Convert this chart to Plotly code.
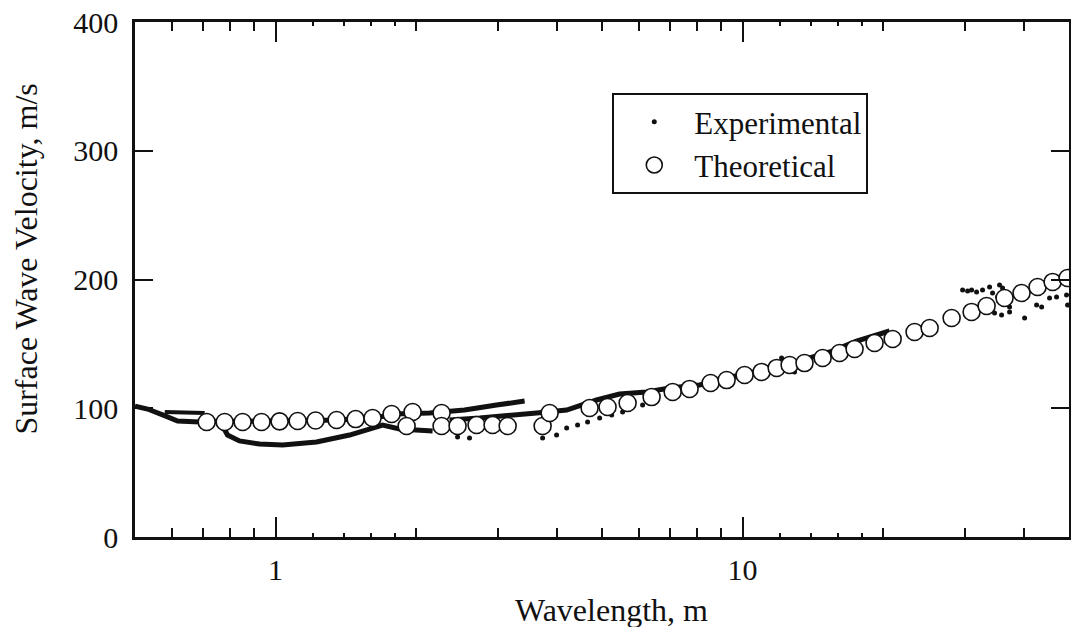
import plotly.graph_objects as go

# ---------------- data ----------------
# Theoretical dispersion points (wavelength m, velocity m/s)
theo_wavelength = [0.712, 0.778, 0.850, 0.933, 1.020, 1.115, 1.218, 1.351, 1.484, 1.613,
                   1.772, 1.965, 1.908, 2.267, 2.267, 2.453, 2.694, 2.915, 3.140, 3.731,
                   3.862, 4.703, 5.139, 5.673, 6.385, 7.084, 7.701, 8.541, 9.243, 10.10,
                   10.98, 11.83, 12.61, 13.57, 14.84, 16.13, 17.37, 19.17, 20.96, 23.35,
                   25.15, 28.03, 30.93, 33.31, 36.39, 39.57, 42.82, 46.12, 49.65]
theo_velocity = [89.3, 89.3, 89.3, 89.3, 89.8, 90.1, 90.5, 90.9, 91.6, 92.4,
                 95.5, 97.1, 86.2, 96.3, 86.2, 86.2, 87.0, 87.0, 86.2, 86.2,
                 96.3, 100.2, 101.0, 104.1, 108.7, 112.6, 115.0, 119.6, 121.9, 125.8,
                 128.2, 131.3, 133.6, 135.1, 139.0, 142.9, 146.0, 150.7, 153.8, 159.2,
                 162.3, 170.1, 174.8, 179.4, 185.6, 189.5, 194.2, 198.1, 201.2]

# Experimental data - dense runs (appear as continuous thick traces)
exp_run1_wavelength = [0.50, 0.532, 0.573, 0.617, 0.688, 1.02, 1.371, 1.629, 1.798, 2.137, 2.539, 2.973, 3.414]
exp_run1_velocity = [101.7, 99.4, 94.8, 90.1, 89.3, 90.1, 90.9, 92.4, 95.5, 96.3, 98.6, 102.5, 105.6]

exp_run2_wavelength = [0.579, 0.705]
exp_run2_velocity = [97.1, 96.3]

exp_run3_wavelength = [0.766, 0.789, 0.837, 0.924, 1.035, 1.224, 1.440, 1.695, 1.843, 2.169]
exp_run3_velocity = [87.8, 79.2, 74.6, 72.2, 71.5, 73.8, 79.2, 87.0, 83.9, 82.3]

exp_run4_wavelength = [2.358, 2.734, 3.622, 4.200, 4.868, 5.452, 6.229, 6.978, 8.088, 9.853,
                       12.61, 15.36, 17.54, 20.64]
exp_run4_velocity = [90.9, 92.4, 96.3, 98.6, 106.4, 111.1, 112.6, 115.7, 118.1, 125.8,
                     134.4, 143.7, 152.2, 160.0]

# Experimental data - isolated points
exp_pts_wavelength = [2.453, 2.602, 3.731, 3.997, 4.200, 4.433, 4.657, 4.942, 5.244, 5.534,
                      6.108, 12.12, 12.92,
                      29.59, 30.33, 30.93, 31.70, 32.65, 33.80, 34.30, 35.50, 35.16, 36.03,
                      34.64, 35.86, 37.30, 37.30, 40.17, 42.62, 43.69, 45.43, 47.02, 49.40, 49.65]
exp_pts_velocity = [77.7, 76.9, 76.9, 79.2, 84.7, 87.0, 89.3, 92.4, 94.8, 97.1,
                    102.5, 139.0, 128.2,
                    191.8, 191.1, 191.8, 190.3, 191.8, 194.2, 189.5, 195.7, 186.4, 193.4,
                    174.0, 172.4, 174.8, 178.6, 170.1, 180.2, 178.6, 185.6, 186.4, 188.0, 180.2]

x_major_ticks = [1, 10]
x_major_labels = ["1", "10"]
x_medium_ticks = [0.6, 0.7, 0.8, 0.9, 2, 3, 4, 5, 6, 7, 8, 9, 20, 30, 40]
x_small_ticks = [1.2, 1.4, 1.6, 1.8, 12, 14, 16, 18]
y_ticks = [0, 100, 200, 300, 400]

x_title = "Wavelength, m"
y_title = "Surface Wave Velocity, m/s"

FONT = "Liberation Serif, Times New Roman, serif"
FS_TITLE = 32
FS_LEGEND = 31
FS_TICK = 30

fig = go.Figure()

for xs, ys, w in [(exp_run1_wavelength, exp_run1_velocity, 5),
                  (exp_run2_wavelength, exp_run2_velocity, 4),
                  (exp_run3_wavelength, exp_run3_velocity, 5),
                  (exp_run4_wavelength, exp_run4_velocity, 5)]:
    fig.add_trace(go.Scatter(x=xs, y=ys, mode="lines", line=dict(color="#111", width=w),
                             showlegend=False, legendgroup="exp", hoverinfo="skip"))

fig.add_trace(go.Scatter(x=exp_pts_wavelength, y=exp_pts_velocity, mode="markers",
                         name="Experimental", legendgroup="exp",
                         marker=dict(color="#111", size=5, symbol="circle")))

fig.add_trace(go.Scatter(x=theo_wavelength, y=theo_velocity, mode="markers",
                         name="Theoretical",
                         marker=dict(color="white", size=17, symbol="circle",
                                     line=dict(color="#111", width=1.6))))

# invisible trace to hold the overlay axis carrying the smallest ticks
fig.add_trace(go.Scatter(x=[1], y=[0], xaxis="x2", mode="markers",
                         marker=dict(opacity=0), showlegend=False, hoverinfo="skip"))

fig.update_layout(
    width=1071, height=627,
    margin=dict(l=135, r=2, t=22, b=90, autoexpand=False),
    paper_bgcolor="white", plot_bgcolor="white",
    font=dict(family=FONT, size=FS_TICK, color="#111"),
    showlegend=True,
    legend=dict(x=0.511, y=0.862, xanchor="left", yanchor="top",
                bgcolor="white", bordercolor="#111", borderwidth=2,
                font=dict(family=FONT, size=FS_LEGEND), itemwidth=70,
                tracegroupgap=0),
    xaxis=dict(type="log", range=[-0.30103, 1.69897], automargin=False,
               tickmode="array", tickvals=x_major_ticks, ticktext=x_major_labels,
               ticks="inside", ticklen=20, tickwidth=2, tickcolor="#111",
               showline=True, linecolor="#111", linewidth=2.5, mirror="ticks",
               showgrid=False, zeroline=False, ticklabelstandoff=4,
               minor=dict(tickmode="array", tickvals=x_medium_ticks, ticks="inside",
                          ticklen=9, tickwidth=2, tickcolor="#111", showgrid=False)),
    xaxis2=dict(type="log", range=[-0.30103, 1.69897], overlaying="x", anchor="y",
                side="bottom", tickmode="array", tickvals=x_small_ticks, automargin=False,
                ticks="inside", ticklen=4, tickwidth=2, tickcolor="#111",
                showticklabels=False, showline=False, mirror="ticks", showgrid=False,
                zeroline=False),
    yaxis=dict(range=[0, 400], tickmode="array", tickvals=y_ticks, automargin=False,
               ticks="inside", ticklen=18, tickwidth=2, tickcolor="#111",
               showline=True, linecolor="#111", linewidth=2.5, mirror="ticks",
               showgrid=False, zeroline=False, ticklabelstandoff=8),
    annotations=[
        dict(text=x_title, xref="paper", yref="paper", x=0.51, y=-0.141,
             xanchor="center", yanchor="middle", showarrow=False,
             font=dict(family=FONT, size=FS_TITLE)),
        dict(text=y_title, xref="paper", yref="paper", x=-0.117, y=0.54,
             xanchor="center", yanchor="middle", showarrow=False, textangle=-90,
             font=dict(family=FONT, size=FS_TITLE)),
    ],
)

fig.write_html("out.html",
               config={"displayModeBar": False},
               post_script="document.body.style.margin='0px';"
                           "document.body.style.overflow='hidden';")
